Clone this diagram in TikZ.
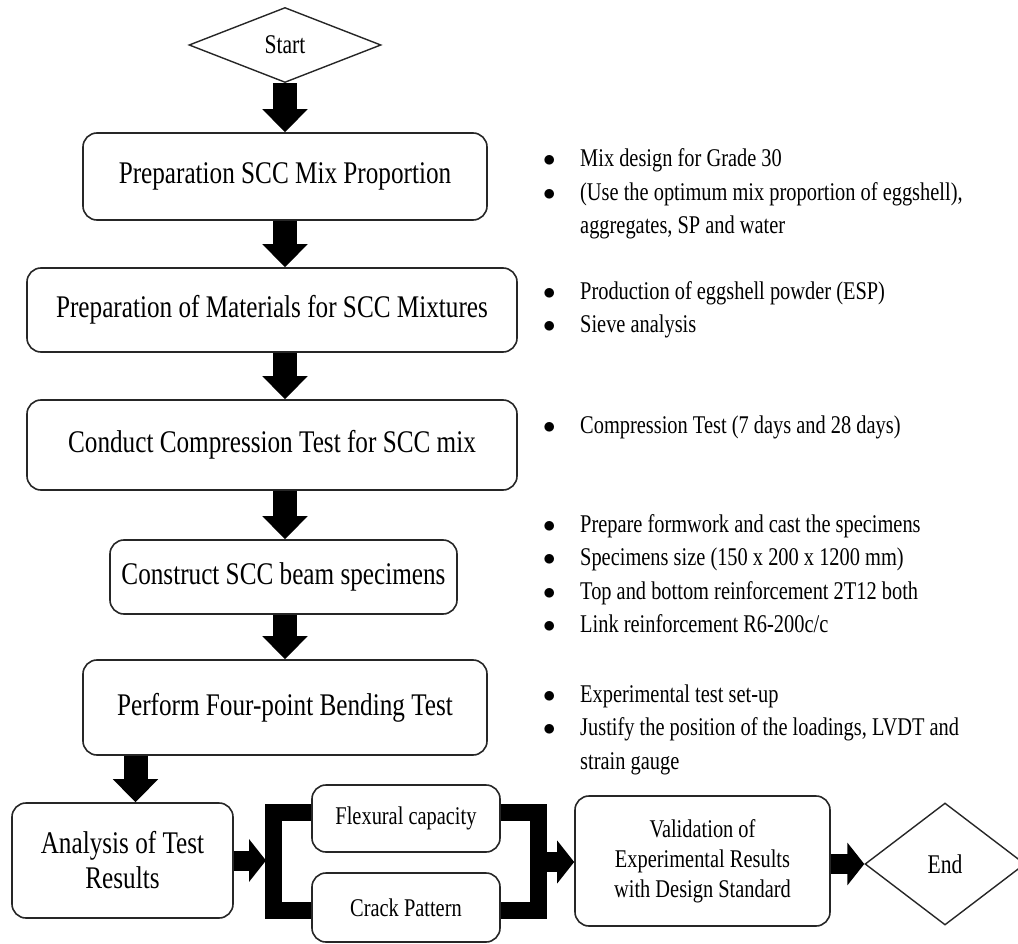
\documentclass[tikz,border=0pt]{standalone}
\usepackage{fontspec}
\setmainfont{Liberation Serif}[FakeStretch=0.8]
\usetikzlibrary{shapes.geometric,arrows.meta}

\begin{document}
\begin{tikzpicture}[x=1pt, y=-1pt,
  box/.style={draw=black!85, line width=1.6pt, rounded corners=14pt, align=center, font=\fontsize{31.5}{35}\selectfont},
  smallbox/.style={box, font=\fontsize{25.5}{30}\selectfont},
  term/.style={diamond, draw=black!85, line width=1.4pt, inner sep=0pt, font=\fontsize{27}{32}\selectfont},
  notes/.style={anchor=base west, inner sep=0pt, font=\fontsize{25.5}{33.5}\selectfont},
  bigarrow/.style={line width=24pt, -{Triangle[length=23pt,width=44pt]}},
  sidearrow/.style={line width=20pt, -{Triangle[length=17pt,width=42pt]}},
  bracket/.style={line width=17pt}]
  \useasboundingbox (0,0) rectangle (1018,944);
  \node[term, minimum width=192pt, minimum height=75pt] (start) at (285,45) {Start};
  \node[box, minimum width=404pt, minimum height=87pt] (mix) at (285,176.5) {Preparation SCC Mix Proportion};
  \node[box, minimum width=490pt, minimum height=84pt] (mat) at (272,310) {Preparation of Materials for SCC Mixtures};
  \node[box, minimum width=490pt, minimum height=90pt] (comp) at (272,445) {Conduct Compression Test for SCC mix};
  \node[box, minimum width=347pt, minimum height=74pt] (beam) at (283.5,577) {Construct SCC beam specimens};
  \node[box, minimum width=404pt, minimum height=95pt] (bend) at (285,707.5) {Perform Four-point Bending Test};
  \node[box, minimum width=221pt, minimum height=115pt] (ana) at (122.5,860.5) {Analysis of Test\\Results};
  \node[smallbox, minimum width=188pt, minimum height=67pt] (flex) at (406,818.5) {Flexural capacity};
  \node[smallbox, minimum width=188pt, minimum height=69pt] (crack) at (406,907.5) {Crack Pattern};
  \node[smallbox, minimum width=255pt, minimum height=130pt] (valid) at (702.5,861) {Validation of\\Experimental Results\\with Design Standard};
  \node[term, minimum width=160pt, minimum height=122pt] (end) at (945,864) {End};

  \node[notes] (mixnotes) at (543,167) {\begin{tabular}[t]{@{}p{37pt}@{}l@{}}
    $\bullet$ & Mix design for Grade 30\\
    $\bullet$ & (Use the optimum mix proportion of eggshell),\\
    & aggregates, SP and water\end{tabular}};
  \node[notes] (matnotes) at (543,299) {\begin{tabular}[t]{@{}p{37pt}@{}l@{}}
    $\bullet$ & Production of eggshell powder (ESP)\\
    $\bullet$ & Sieve analysis\end{tabular}};
  \node[notes] (compnotes) at (543,433) {\begin{tabular}[t]{@{}p{37pt}@{}l@{}}
    $\bullet$ & Compression Test (7 days and 28 days)\end{tabular}};
  \node[notes] (beamnotes) at (543,532) {\begin{tabular}[t]{@{}p{37pt}@{}l@{}}
    $\bullet$ & Prepare formwork and cast the specimens\\
    $\bullet$ & Specimens size (150 x 200 x 1200 mm)\\
    $\bullet$ & Top and bottom reinforcement 2T12 both\\
    $\bullet$ & Link reinforcement R6-200c/c\end{tabular}};
  \node[notes] (bendnotes) at (543,702) {\begin{tabular}[t]{@{}p{37pt}@{}l@{}}
    $\bullet$ & Experimental test set-up\\
    $\bullet$ & Justify the position of the loadings, LVDT and\\
    & strain gauge\end{tabular}};

  \draw[bigarrow] (start) -- (mix);
  \draw[bigarrow] (mix.south) -- (mix.south |- mat.north);
  \draw[bigarrow] (mat.south -| mix.south) -- (comp.north -| mix.south);
  \draw[bigarrow] (comp.south -| mix.south) -- (beam.north -| mix.south);
  \draw[bigarrow] (beam.south -| mix.south) -- (bend.north);
  \draw[bigarrow] ([xshift=13pt]ana.north |- bend.south) -- ([xshift=13pt]ana.north);

  \draw[bracket] ([yshift=6.5pt]flex.west) -- ++(-38,0) |- ([yshift=-3pt]crack.west);
  \draw[bracket] ([yshift=6.5pt]flex.east) -- ++(38,0) |- ([yshift=-3pt]crack.east);
  \coordinate (lbar) at (266,857);
  \coordinate (rbar) at (546,862);
  \draw[sidearrow] (ana.east) -- (ana.east -| lbar);
  \draw[sidearrow] (rbar) -- (rbar -| valid.west);
  \draw[sidearrow] (valid.east |- end) -- (end.west);
\end{tikzpicture}
\end{document}
